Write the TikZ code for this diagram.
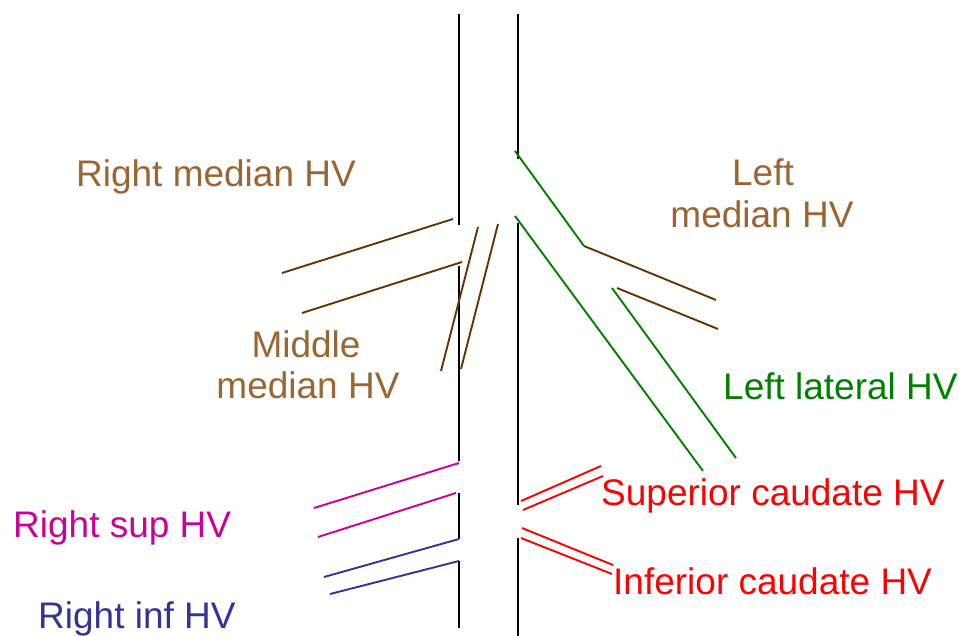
\documentclass[tikz,border=0pt]{standalone}
\usepackage{fontspec}
\setmainfont{Liberation Sans}
\definecolor{brtext}{HTML}{996633}
\definecolor{brline}{HTML}{663300}
\definecolor{grn}{HTML}{008000}
\definecolor{mag}{HTML}{CC0099}
\definecolor{navy}{HTML}{333399}
\definecolor{rd}{HTML}{FF0000}
\tikzset{
  lbl/.style={inner sep=0pt, font=\fontsize{37}{42}\selectfont, align=center},
  vessel/.style={line width=1.9pt},
}
\begin{document}
\begin{tikzpicture}[x=1pt,y=-1pt]
\useasboundingbox (0,0) rectangle (963,636);
% main vertical lines
\draw[vessel,black] (459,14) -- (459,225);
\draw[vessel,black] (459,266) -- (459,461);
\draw[vessel,black] (459,493) -- (459,539);
\draw[vessel,black] (459,561) -- (459,628);
\draw[vessel,black] (518,14) -- (518,159);
\draw[vessel,black] (518,223) -- (518,505);
\draw[vessel,black] (518,538) -- (518,636);
% right median HV
\draw[vessel,brline] (282,273) -- (453,219);
\draw[vessel,brline] (302,313) -- (462,262);
% middle median HV
\draw[vessel,brline] (441,371) -- (478,227);
\draw[vessel,brline] (461,369) -- (498,224);
% left median HV
\draw[vessel,brline] (584,246) -- (716,300);
\draw[vessel,brline] (617,288) -- (718,329);
% left lateral HV
\draw[vessel,grn] (515,151) -- (584,246);
\draw[vessel,grn] (515,216) -- (703,471);
\draw[vessel,grn] (612,288) -- (736,458);
% right sup HV
\draw[vessel,mag] (314,508) -- (459,463);
\draw[vessel,mag] (318,537) -- (456,493);
% right inf HV
\draw[vessel,navy] (324,577) -- (459,539);
\draw[vessel,navy] (330,594) -- (459,561);
% caudate HVs
\draw[vessel,rd] (521,501) -- (601,466);
\draw[vessel,rd] (523,510) -- (603,476);
\draw[vessel,rd] (522,528) -- (613,565);
\draw[vessel,rd] (521,538) -- (612,574);
% labels
\node[lbl,text=brtext,anchor=base] (rm) at (216,187) {Right median HV};
\node[lbl,text=brtext,anchor=base] (lm1) at (763,186) {Left};
\node[lbl,text=brtext,anchor=base] (lm2) at (762,228) {median HV};
\node[lbl,text=brtext,anchor=base] (mm1) at (306,357) {Middle};
\node[lbl,text=brtext,anchor=base] (mm2) at (308,398) {median HV};
\node[lbl,text=grn,anchor=base west] (ll) at (723,399) {Left lateral HV};
\node[lbl,text=mag,anchor=base west] (rs) at (13,537) {Right sup HV};
\node[lbl,text=navy,anchor=base west] (ri) at (38,628) {Right inf HV};
\node[lbl,text=rd,anchor=base west] (sc) at (601,505) {Superior caudate HV};
\node[lbl,text=rd,anchor=base west] (ic) at (613,594) {Inferior caudate HV};
\end{tikzpicture}
\end{document}
